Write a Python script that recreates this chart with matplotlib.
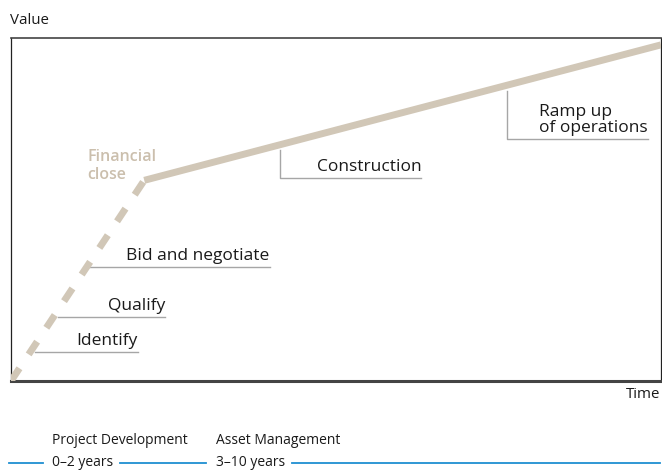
import matplotlib.pyplot as plt

plt.rcParams['font.family'] = ['Open Sans', 'DejaVu Sans']

# value path: start, financial close, end of horizon
path_x = [0.0, 20.5, 100.0]
path_y = [0.0, 58.5, 98.0]

# stage labels sitting on leader lines below the path
stages = ["Identify", "Qualify", "Bid and negotiate"]
stage_x0 = [3.7, 7.2, 11.8]
stage_x1 = [19.5, 23.7, 39.8]
stage_y = [8.5, 18.7, 33.2]

# bracketed labels hanging from the solid part of the path
brackets = ["Construction", "Ramp up\nof operations"]
bracket_x = [41.4, 76.3]
bracket_top = [67.3, 84.5]
bracket_bot = [59.2, 70.6]
bracket_x1 = [63.1, 98.0]

phases = ["Project Development", "Asset Management"]
durations = ["0\u20132 years", "3\u201310 years"]

line_col = '#d1c7b7'
lead_col = '#a6a6a6'
blue = '#1f8fd1'

W, H = 662, 471
fig = plt.figure(figsize=(W / 100, H / 100), dpi=100)
ax = fig.add_axes([11 / W, (H - 381) / H, 650 / W, 343 / H])
ax.set_xlim(0, 100)
ax.set_ylim(0, 100)
ax.set_xticks([])
ax.set_yticks([])
for s in ['left', 'right']:
    ax.spines[s].set_linewidth(0.9)
    ax.spines[s].set_color('#222222')
ax.spines['top'].set_linewidth(1.2)
ax.spines['top'].set_color('#444444')
ax.spines['bottom'].set_linewidth(2.2)
ax.spines['bottom'].set_color('#444444')

# dashed development phase, solid afterwards
ax.plot(path_x[:2], path_y[:2], color=line_col, lw=5, ls=(0, (2.2, 2.4)),
        solid_capstyle='butt', dash_capstyle='butt', zorder=3)
ax.plot(path_x[1:], path_y[1:], color=line_col, lw=5, solid_capstyle='butt', zorder=3)

for name, x0, x1, y in zip(stages, stage_x0, stage_x1, stage_y):
    ax.plot([x0, x1], [y, y], color=lead_col, lw=1, zorder=2)
    ax.annotate(name, (x1, y), xytext=(0, 2), textcoords='offset points',
                ha='right', va='bottom', fontsize=12.5, color='#1a1a1a')

for name, x, yt, yb, x1 in zip(brackets, bracket_x, bracket_top, bracket_bot, bracket_x1):
    ax.plot([x, x, x1], [yt, yb, yb], color=lead_col, lw=1, zorder=2)
    ax.annotate(name, (x1, yb), xytext=(0, 2), textcoords='offset points',
                ha='right', va='bottom', fontsize=12.5, color='#1a1a1a',
                multialignment='left', linespacing=1.0)

ax.text(11.7, 62.7, "Financial\nclose", ha='left', va='center', fontsize=11.5,
        color='#cbbfad', fontweight='semibold', linespacing=1.12)

fig.text(10 / W, 1 - 20 / H, "Value", ha='left', va='center', fontsize=10.8, color='#1a1a1a')
fig.text(660 / W, 1 - 395 / H, "Time", ha='right', va='center', fontsize=10.8, color='#1a1a1a')

# timeline underneath
yl = 1 - 463 / H
fig.add_artist(plt.Line2D([9 / W, 43 / W], [yl, yl], color=blue, lw=1.3))
fig.add_artist(plt.Line2D([120 / W, 206 / W], [yl, yl], color=blue, lw=1.3))
fig.add_artist(plt.Line2D([292 / W, 660 / W], [yl, yl], color=blue, lw=1.3))
for x, p, d in zip([52, 216], phases, durations):
    fig.text(x / W, 1 - 440 / H, p, ha='left', va='center', fontsize=10, color='#1a1a1a')
    fig.text(x / W, 1 - 462 / H, d, ha='left', va='center', fontsize=10, color='#1a1a1a')

fig.savefig('out.png', dpi=100)
